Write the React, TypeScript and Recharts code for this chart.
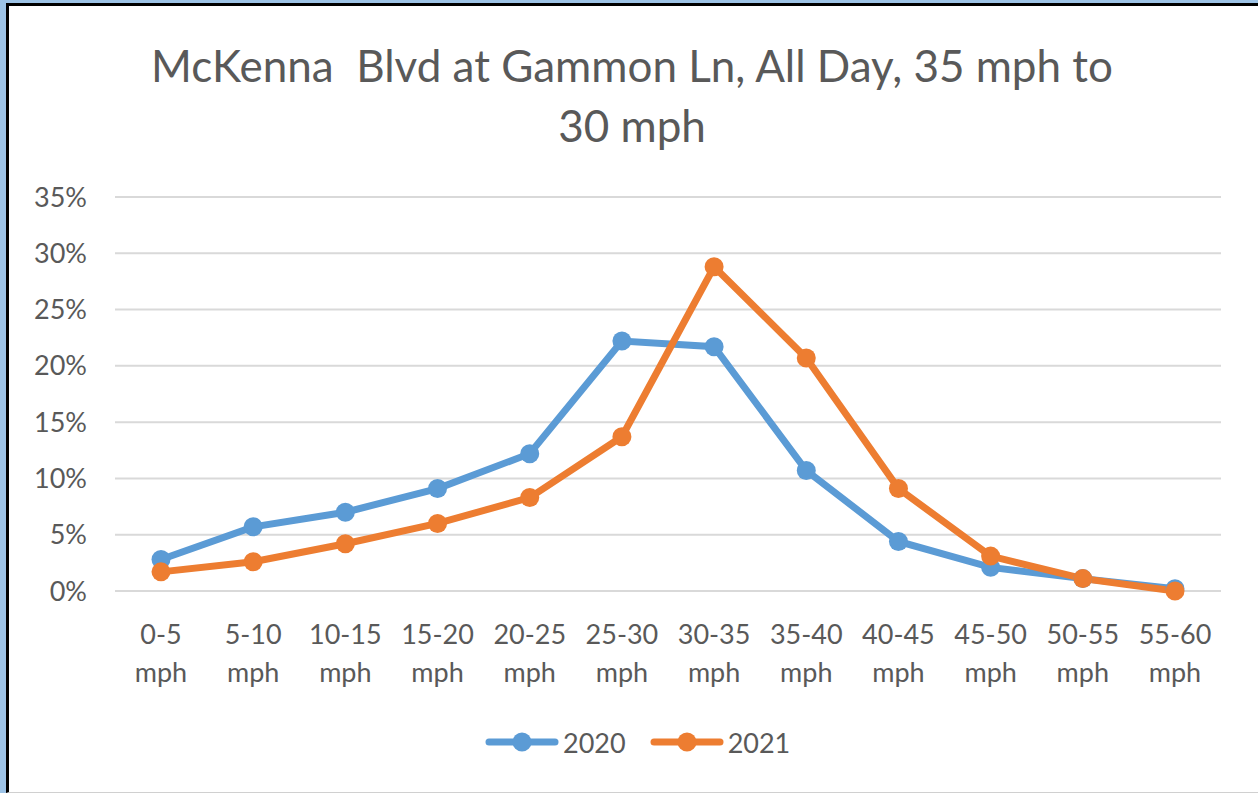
import { LineChart, Line, XAxis, YAxis, CartesianGrid, Legend } from "recharts";

const categories = [
  "0-5 mph",
  "5-10 mph",
  "10-15 mph",
  "15-20 mph",
  "20-25 mph",
  "25-30 mph",
  "30-35 mph",
  "35-40 mph",
  "40-45 mph",
  "45-50 mph",
  "50-55 mph",
  "55-60 mph",
];
const values2020 = [2.8, 5.7, 7.0, 9.1, 12.2, 22.2, 21.7, 10.7, 4.4, 2.1, 1.1, 0.2];
const values2021 = [1.7, 2.6, 4.2, 6.0, 8.3, 13.7, 28.8, 20.7, 9.1, 3.1, 1.1, 0.0];
const yTicks = [0, 5, 10, 15, 20, 25, 30, 35];

const BLUE = "#5B9BD5";
const ORANGE = "#ED7D31";
const TEXT = "#595959";
const FONT = "Lato, 'Open Sans', sans-serif";

const data = categories.map((name, i) => ({
  name,
  y2020: values2020[i],
  y2021: values2021[i],
}));

function SpeedTick(props: any) {
  const { x, y, payload } = props;
  const [range, unit] = String(payload.value).split(" ");
  return (
    <text x={x} y={y} textAnchor="middle" fill={TEXT} fontSize={27} fontFamily={FONT}>
      <tspan x={x} dy={53}>
        {range}
      </tspan>
      <tspan x={x} dy={38}>
        {unit}
      </tspan>
    </text>
  );
}

function LegendContent() {
  const items = [
    { label: "2020", color: BLUE },
    { label: "2021", color: ORANGE },
  ];
  return (
    <div
      style={{
        height: 40,
        display: "flex",
        alignItems: "center",
        paddingLeft: 485,
        fontFamily: FONT,
        fontSize: 27,
        color: TEXT,
      }}
    >
      {items.map((it) => (
        <div key={it.label} style={{ display: "flex", alignItems: "center", marginRight: 24 }}>
          <svg width={74} height={22}>
            <line x1={4} y1={11} x2={70} y2={11} stroke={it.color} strokeWidth={7} strokeLinecap="round" />
            <circle cx={37} cy={11} r={9.5} fill={it.color} />
          </svg>
          <span style={{ marginLeft: 4 }}>{it.label}</span>
        </div>
      ))}
    </div>
  );
}

export default function App() {
  return (
    <div
      style={{
        position: "absolute",
        left: 0,
        top: 0,
        width: 1258,
        height: 793,
        background: "#9DC3E6",
        overflow: "hidden",
      }}
    >
      <div
        style={{
          position: "absolute",
          left: 6,
          top: 3,
          right: 0,
          bottom: 0,
          background: "#fff",
          borderLeft: "3px solid #000",
          borderTop: "3px solid #000",
          borderBottom: "1px solid #d0d0d0",
        }}
      />
      <div
        style={{
          position: "absolute",
          left: 0,
          top: 35,
          width: 1264,
          textAlign: "center",
          fontFamily: FONT,
          fontSize: 44,
          lineHeight: "60px",
          color: TEXT,
          whiteSpace: "pre",
        }}
      >
        {"McKenna  Blvd at Gammon Ln, All Day, 35 mph to\n30 mph"}
      </div>
      <div style={{ position: "absolute", left: 0, top: 0 }}>
        <LineChart
          width={1258}
          height={793}
          data={data}
          margin={{ top: 197, right: 37, bottom: 31, left: 0 }}
        >
          <CartesianGrid vertical={false} stroke="#D9D9D9" strokeWidth={2} />
          <XAxis
            dataKey="name"
            axisLine={false}
            tickLine={false}
            tickSize={0}
            tickMargin={0}
            height={131}
            interval={0}
            padding={{ left: 46, right: 46 }}
            tick={<SpeedTick />}
          />
          <YAxis
            width={115}
            domain={[0, 35]}
            ticks={yTicks}
            axisLine={false}
            tickLine={false}
            tickSize={0}
            tickMargin={28}
            tickFormatter={(v: number) => `${v}%`}
            tick={{ fill: TEXT, fontSize: 27, fontFamily: FONT }}
          />
          <Legend verticalAlign="bottom" content={<LegendContent />} />
          <Line
            dataKey="y2020"
            name="2020"
            stroke={BLUE}
            strokeWidth={7}
            dot={{ r: 9.5, fill: BLUE, stroke: BLUE, strokeWidth: 0 }}
            isAnimationActive={false}
          />
          <Line
            dataKey="y2021"
            name="2021"
            stroke={ORANGE}
            strokeWidth={7}
            dot={{ r: 9.5, fill: ORANGE, stroke: ORANGE, strokeWidth: 0 }}
            isAnimationActive={false}
          />
        </LineChart>
      </div>
    </div>
  );
}
